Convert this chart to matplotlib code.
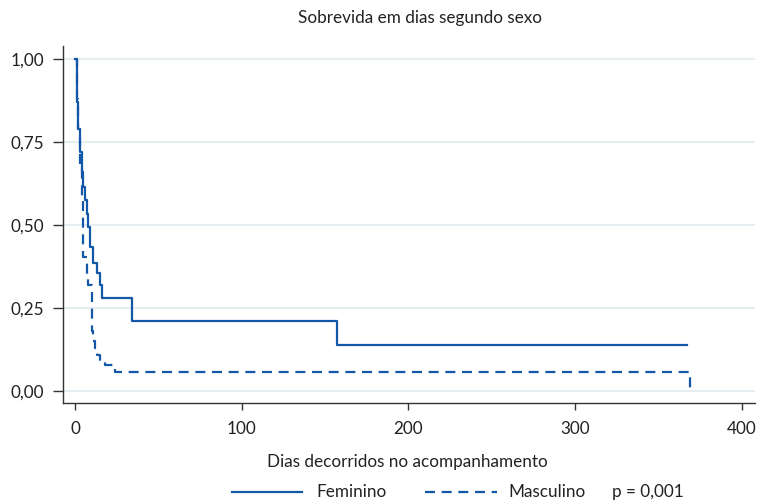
import numpy as np
import matplotlib
matplotlib.use("Agg")
import matplotlib.pyplot as plt
from matplotlib.lines import Line2D

plt.rcParams['font.family'] = ['Lato', 'DejaVu Sans']

# Kaplan-Meier estimates
fem_days = [0, 1, 2, 3, 4, 5, 6, 7, 8, 9, 11, 13, 15, 16, 34, 157, 367]
fem_surv = [1.0, 0.87, 0.79, 0.72, 0.66, 0.615, 0.575, 0.535, 0.495, 0.435, 0.385, 0.355, 0.32, 0.28, 0.21, 0.14, 0.14]

masc_days = [0, 1, 2, 3, 4, 5, 7, 8, 10, 11, 12, 13, 15, 18, 24, 369]
masc_surv = [1.0, 0.88, 0.79, 0.68, 0.575, 0.405, 0.34, 0.32, 0.18, 0.15, 0.13, 0.11, 0.09, 0.078, 0.056, 0.0]

yticks = [0, 0.25, 0.5, 0.75, 1.0]
ytick_labels = ["0,00", "0,25", "0,50", "0,75", "1,00"]
xticks = [0, 100, 200, 300, 400]

blue = '#1358a8'
dark = '#333333'
txt = '#222222'
fs = 12.3

fig = plt.figure(figsize=(7.58, 5.03), dpi=100)
ax = fig.add_axes([63/758, 1 - 403/503, (755 - 63)/758, (403 - 46)/503])

ax.step(fem_days, fem_surv, where='post', color=blue, lw=1.6)
ax.step(masc_days, masc_surv, where='post', color=blue, lw=1.6, linestyle=(0, (4.5, 3)))

ax.set_xlim(-7.2, 408)
ax.set_ylim(-0.036, 1.04)
ax.set_yticks(yticks)
ax.set_yticklabels(ytick_labels)
ax.set_xticks(xticks)
ax.grid(axis='y', color='#e6edf1', lw=1.4)
ax.set_axisbelow(True)
for s in ['top', 'right']:
    ax.spines[s].set_visible(False)
for s in ['left', 'bottom']:
    ax.spines[s].set_color(dark)
    ax.spines[s].set_linewidth(1.0)
ax.tick_params(axis='both', direction='out', width=1.0, color=dark,
               labelsize=fs, labelcolor=txt)
ax.tick_params(axis='y', length=7.5, pad=6)
ax.tick_params(axis='x', length=5, pad=8)

fig.text(420/758, 1 - 18/503, "Sobrevida em dias segundo sexo", ha='center', va='center',
         fontsize=fs, color=txt)
fig.text(407/758, 1 - 462/503, "Dias decorridos no acompanhamento", ha='center', va='center',
         fontsize=fs, color=txt)

# legend row
ly = 1 - 492/503
fig.add_artist(Line2D([232/758, 302/758], [ly, ly], color=blue, lw=1.6))
fig.text(316/758, ly, "Feminino", ha='left', va='center', fontsize=fs, color=txt)
fig.add_artist(Line2D([425/758, 497/758], [ly, ly], color=blue, lw=1.6, linestyle=(0, (4.5, 3))))
fig.text(508/758, ly, "Masculino", ha='left', va='center', fontsize=fs, color=txt)
fig.text(612/758, ly, "p = 0,001", ha='left', va='center', fontsize=fs, color=txt)

fig.savefig("out.png", dpi=100)
